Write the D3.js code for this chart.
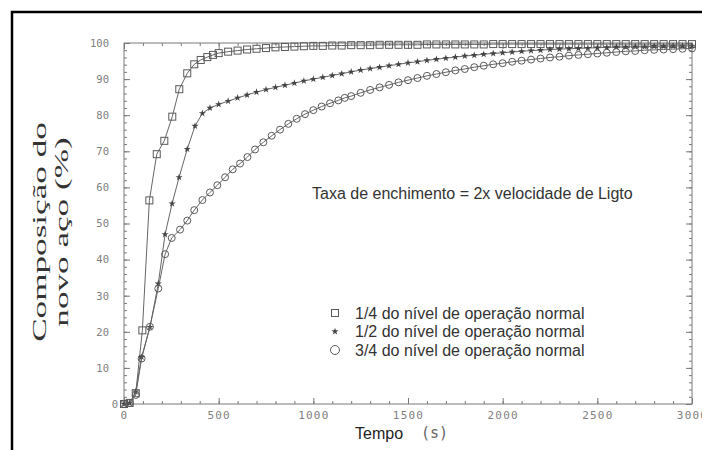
<!DOCTYPE html>
<html>
<head>
<meta charset="utf-8">
<script src="https://cdn.jsdelivr.net/npm/d3@7"></script>
<style>
  body { margin: 0; background: #fff; }
  svg { display: block; }
</style>
</head>
<body>
<div id="chart"></div>
<script>
// 1/4 do nível (quadrados)
const tempoQuarto = [0, 30, 62, 97, 134, 173, 213, 255, 292, 334, 371, 405, 440, 470,
  500, 550, 600, 650, 700, 750, 800, 850, 900, 950, 1000, 1050, 1100, 1150, 1200, 1250,
  1300, 1350, 1400, 1450, 1500, 1550, 1600, 1650, 1700, 1750, 1800, 1850, 1900, 1950,
  2000, 2050, 2100, 2150, 2200, 2250, 2300, 2350, 2400, 2450, 2500, 2550, 2600, 2650,
  2700, 2750, 2800, 2850, 2900, 2950, 3000];
const compQuarto = [0, 0.3, 3, 20.4, 56.4, 69.2, 72.9, 79.6, 87.2, 91.6, 94.1, 95.3, 96.1, 96.7,
  97.2, 97.6, 97.9, 98.2, 98.4, 98.6, 98.8, 98.9, 99.0, 99.1, 99.2, 99.2, 99.3, 99.3, 99.4, 99.4,
  99.4, 99.5, 99.5, 99.5, 99.5, 99.5, 99.6, 99.6, 99.6, 99.6, 99.6, 99.6, 99.6, 99.7,
  99.7, 99.7, 99.7, 99.7, 99.7, 99.7, 99.7, 99.7, 99.7, 99.7, 99.7, 99.7, 99.7, 99.7,
  99.7, 99.7, 99.7, 99.7, 99.7, 99.7, 99.7];

// 1/2 do nível (asteriscos)
const tempoMeio = [0, 30, 62, 93, 137, 181, 217, 254, 291, 334, 375, 414, 454,
  500, 550, 600, 650, 700, 750, 800, 850, 900, 950, 1000, 1050, 1100, 1150, 1200, 1250,
  1300, 1350, 1400, 1450, 1500, 1550, 1600, 1650, 1700, 1750, 1800, 1850, 1900, 1950,
  2000, 2050, 2100, 2150, 2200, 2250, 2300, 2350, 2400, 2450, 2500, 2550, 2600, 2650,
  2700, 2750, 2800, 2850, 2900, 2950, 3000];
const compMeio = [0, 0.3, 3.4, 13, 21.3, 33.3, 47, 55.5, 62.8, 70.6, 77, 80.5, 82,
  83.0, 83.9, 84.8, 85.6, 86.4, 87.1, 87.7, 88.3, 88.9, 89.5, 90.0, 90.5, 91.0, 91.5, 92.0, 92.5,
  92.9, 93.3, 93.7, 94.1, 94.5, 94.8, 95.2, 95.5, 95.8, 96.1, 96.4, 96.6, 96.9, 97.1,
  97.3, 97.5, 97.7, 97.9, 98.0, 98.2, 98.3, 98.4, 98.5, 98.6, 98.7, 98.8, 98.9, 98.9,
  99.0, 99.0, 99.1, 99.1, 99.2, 99.2, 99.2];

// 3/4 do nível (círculos)
const tempoTresQuartos = [0, 30, 62, 93, 137, 181, 217, 252, 296, 334, 371, 414, 454, 493,
  534, 574, 613, 652, 692, 736, 780, 824, 868, 912, 956, 1000, 1044, 1088, 1132, 1166,
  1200, 1250, 1300, 1350, 1400, 1450, 1500, 1550, 1600, 1650, 1700, 1750, 1800, 1850,
  1900, 1950, 2000, 2050, 2100, 2150, 2200, 2250, 2300, 2350, 2400, 2450, 2500, 2550,
  2600, 2650, 2700, 2750, 2800, 2850, 2900, 2950, 3000];
const compTresQuartos = [0, 0.3, 2.5, 12.6, 21.4, 32, 41.5, 46, 48.3, 50.8, 53.7, 56.5, 58.6, 60.6,
  62.8, 65, 66.6, 68.4, 70.5, 72.5, 74.3, 76.0, 77.6, 79.0, 80.3, 81.4, 82.4, 83.3, 84.1, 84.8,
  85.3, 86.2, 87.0, 87.7, 88.4, 89.1, 89.7, 90.3, 90.9, 91.4, 91.9, 92.4, 92.8, 93.3,
  93.7, 94.1, 94.4, 94.8, 95.1, 95.4, 95.7, 96.0, 96.2, 96.5, 96.7, 96.9, 97.1, 97.3,
  97.5, 97.7, 97.8, 98.0, 98.1, 98.2, 98.3, 98.4, 98.5];

const legendas = ["1/4 do nível de operação normal",
                  "1/2 do nível de operação normal",
                  "3/4 do nível de operação normal"];
const xTicks = [0, 500, 1000, 1500, 2000, 2500, 3000];
const yTicks = [0, 10, 20, 30, 40, 50, 60, 70, 80, 90, 100];

const width = 702,
      height = 450,
      margin = { top: 43, right: 10, bottom: 46, left: 124 };

const svg = d3.select("#chart")
  .append("svg")
  .attr("width", width)
  .attr("height", height);

// outer frame (only left and top edges fall inside the picture)
svg.append("rect")
  .attr("x", 12).attr("y", 12)
  .attr("width", width).attr("height", height)
  .attr("fill", "none")
  .attr("stroke", "#000")
  .attr("stroke-width", 2.5);

const x = d3.scaleLinear().domain([0, 3000]).range([margin.left, width - margin.right]);
const y = d3.scaleLinear().domain([0, 100]).range([height - margin.bottom, margin.top]);

const axisColor = "#7a7a7a";

// plot box
svg.append("rect")
  .attr("x", x(0)).attr("y", y(100))
  .attr("width", x(3000) - x(0)).attr("height", y(0) - y(100))
  .attr("fill", "none")
  .attr("stroke", axisColor)
  .attr("stroke-width", 1);

function styleAxis(g) {
  g.select(".domain").remove();
  g.selectAll(".tick line").attr("stroke", axisColor);
  g.selectAll(".tick text")
    .attr("fill", "#808080")
    .style("font-family", "'DejaVu Sans Mono', monospace");
}

// minor ticks
const minorX = d3.range(0, 3001, 100);
const minorY = d3.range(0, 101, 2);
svg.append("g").attr("transform", `translate(0,${y(0)})`)
  .call(d3.axisBottom(x).tickValues(minorX).tickSize(-3).tickFormat("")).call(styleAxis);
svg.append("g").attr("transform", `translate(0,${y(100)})`)
  .call(d3.axisTop(x).tickValues(minorX).tickSize(-3).tickFormat("")).call(styleAxis);
svg.append("g").attr("transform", `translate(${x(0)},0)`)
  .call(d3.axisLeft(y).tickValues(minorY).tickSize(-3).tickFormat("")).call(styleAxis);
svg.append("g").attr("transform", `translate(${x(3000)},0)`)
  .call(d3.axisRight(y).tickValues(minorY).tickSize(-3).tickFormat("")).call(styleAxis);

// major ticks + labels
svg.append("g").attr("transform", `translate(0,${y(0)})`)
  .call(d3.axisBottom(x).tickValues(xTicks).tickSize(-6).tickPadding(7).tickFormat(d3.format("d")))
  .call(styleAxis)
  .selectAll(".tick text")
  .style("font-size", "11px")
  .style("letter-spacing", "1.2px");
svg.append("g").attr("transform", `translate(0,${y(100)})`)
  .call(d3.axisTop(x).tickValues(xTicks).tickSize(-6).tickFormat("")).call(styleAxis);
const yAxisG = svg.append("g").attr("transform", `translate(${x(0)},0)`)
  .call(d3.axisLeft(y).tickValues(yTicks).tickSize(-6).tickPadding(15).tickFormat(d3.format("d")))
  .call(styleAxis);
yAxisG.selectAll(".tick text").style("font-size", "10.5px");
yAxisG.selectAll(".tick").filter(d => d === 0).select("text").attr("x", -6);
svg.append("g").attr("transform", `translate(${x(3000)},0)`)
  .call(d3.axisRight(y).tickValues(yTicks).tickSize(-6).tickFormat("")).call(styleAxis);

// series
const series = [
  { t: tempoQuarto, v: compQuarto, mark: "square" },
  { t: tempoMeio, v: compMeio, mark: "star" },
  { t: tempoTresQuartos, v: compTresQuartos, mark: "circle" }
];

const line = d3.line().x(d => x(d[0])).y(d => y(d[1]));
const lineColor = "#666";

function drawMark(g, kind, size) {
  if (kind === "square") {
    g.append("rect")
      .attr("x", -size / 2).attr("y", -size / 2)
      .attr("width", size).attr("height", size)
      .attr("fill", "none").attr("stroke", "#5a5a5a").attr("stroke-width", 1);
  } else if (kind === "circle") {
    g.append("circle").attr("r", size / 2)
      .attr("fill", "none").attr("stroke", "#5a5a5a").attr("stroke-width", 1);
  } else {
    g.append("path")
      .attr("d", d3.symbol(d3.symbolStar, size * size)())
      .attr("fill", "#444");
  }
}

series.forEach(s => {
  const pts = s.t.map((t, i) => [t, s.v[i]]);
  svg.append("path")
    .datum(pts)
    .attr("d", line)
    .attr("fill", "none")
    .attr("stroke", lineColor)
    .attr("stroke-width", 1);
  svg.append("g").selectAll("g")
    .data(pts)
    .join("g")
    .attr("transform", d => `translate(${x(d[0])},${y(d[1])})`)
    .each(function () { drawMark(d3.select(this), s.mark, s.mark === "star" ? 4 : 7); });
});

// annotation
svg.append("text")
  .attr("x", 312).attr("y", 199)
  .attr("fill", "#333")
  .style("font-family", "'Liberation Sans', Arial, sans-serif")
  .style("font-size", "16px")
  .text("Taxa de enchimento = 2x velocidade de Ligto");

// legend
const legend = svg.append("g").attr("transform", "translate(335,313)");
legendas.forEach((txt, i) => {
  const row = legend.append("g").attr("transform", `translate(0,${i * 18.5})`);
  drawMark(row, series[i].mark, series[i].mark === "circle" ? 9 : (series[i].mark === "star" ? 4 : 7));
  row.append("text")
    .attr("x", 20).attr("y", 5.5)
    .attr("fill", "#333")
    .style("font-family", "'Liberation Sans', Arial, sans-serif")
    .style("font-size", "16px")
    .text(txt);
});

// axis titles
svg.append("text")
  .attr("x", 355).attr("y", 439)
  .attr("fill", "#222")
  .style("font-family", "'Liberation Sans', Arial, sans-serif")
  .style("font-size", "16px")
  .text("Tempo");
svg.append("text")
  .attr("x", 421).attr("y", 438)
  .attr("fill", "#666")
  .style("font-family", "'DejaVu Sans Mono', monospace")
  .style("font-size", "15px")
  .text("(s)");

const yTitle = svg.append("g").attr("transform", "translate(0,232) rotate(-90)");
[["Composição do", 46], ["novo aço (%)", 68]].forEach(([txt, base]) => {
  yTitle.append("text")
    .attr("transform", "scale(1.85,1)")
    .attr("x", 0).attr("y", base)
    .attr("text-anchor", "middle")
    .attr("fill", "#333")
    .style("font-family", "'Liberation Serif', 'Times New Roman', serif")
    .style("font-size", "19px")
    .text(txt);
});
</script>
</body>
</html>
